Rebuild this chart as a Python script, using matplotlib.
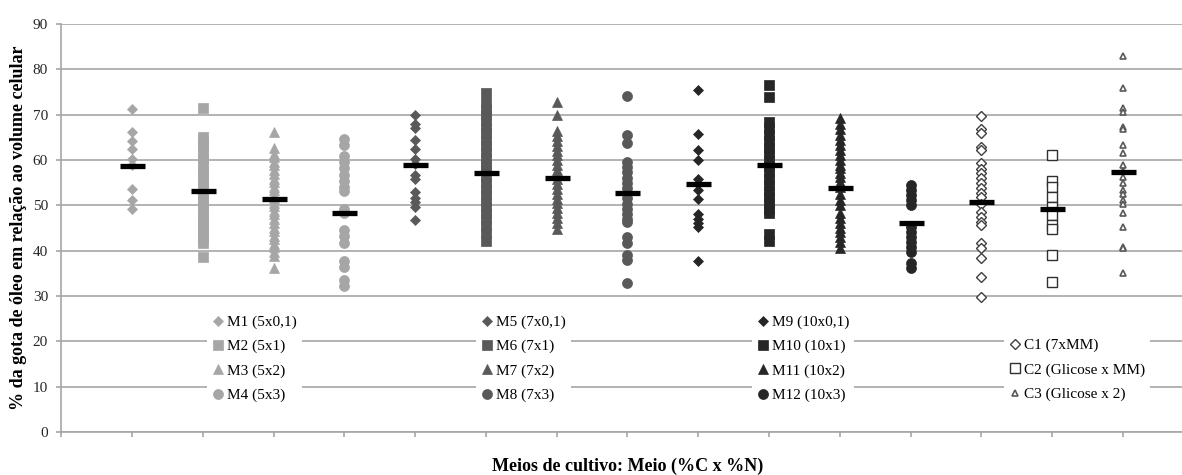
import numpy as np
import matplotlib
matplotlib.use("Agg")
from matplotlib import pyplot as plt

plt.rcParams['font.family'] = ['Liberation Serif', 'DejaVu Serif']

# Oil droplet share per culture medium (one value per cell)
m1 = [71.2, 66.1, 64.2, 62.5, 60.2, 59.0, 53.6, 51.2, 49.1]
m2 = [71.5, 65.1, 64.0, 62.8, 61.5, 60.2, 59.0, 57.6, 56.4, 55.1, 53.9, 52.6,
      51.3, 50.0, 48.8, 47.5, 46.3, 45.0, 43.8, 42.6, 41.7, 38.7]
m3 = [66.2, 62.6, 61.4, 60.6, 59.5, 58.8, 57.7, 57.0, 55.9, 55.2, 54.1, 53.4,
      52.3, 51.6, 50.5, 49.8, 48.7, 48.0, 46.9, 46.2, 45.1, 44.4, 43.3, 42.6,
      41.5, 40.8, 39.7, 38.9, 36.1]
m4 = [64.6, 63.3, 60.8, 59.5, 58.3, 56.8, 55.4, 54.1, 53.2, 49.2, 48.3, 44.6,
      43.2, 41.6, 37.8, 36.3, 33.5, 32.1]
m5 = [70.0, 68.0, 67.1, 64.4, 62.5, 60.2, 59.1, 56.7, 55.7, 53.0, 51.7, 50.8,
      49.7, 46.8]
m6 = [74.8, 72.5, 71.3, 70.0, 68.6, 67.1, 65.9, 64.4, 63.0, 61.8, 60.3, 59.0,
      57.7, 56.2, 55.0, 53.6, 52.3, 51.0, 49.6, 48.2, 46.9, 45.4, 44.0, 42.1]
m7 = [72.9, 69.9, 66.5, 65.4, 64.3, 63.1, 62.0, 61.0, 59.9, 58.9, 57.8, 56.9,
      55.8, 54.7, 53.7, 52.6, 51.5, 50.5, 49.4, 48.4, 47.3, 46.1, 44.8]
m8 = [74.1, 65.5, 63.7, 59.6, 58.4, 57.3, 56.1, 55.0, 53.8, 52.7, 51.6, 50.4,
      49.3, 48.1, 47.0, 46.4, 43.1, 41.6, 39.0, 37.9, 32.9]
m9 = [75.4, 65.7, 62.2, 60.1, 55.7, 54.6, 53.4, 51.4, 48.1, 47.0, 46.0, 45.3,
      37.8]
m10 = [76.6, 73.8, 68.4, 67.0, 65.6, 64.1, 62.7, 61.5, 60.0, 58.6, 57.3, 55.9,
       54.5, 53.2, 51.8, 50.5, 49.2, 48.2, 43.7, 42.1]
m11 = [69.2, 68.0, 66.8, 65.6, 64.4, 63.2, 62.2, 61.1, 60.0, 59.0, 58.2, 57.2,
       56.3, 55.2, 54.0, 52.6, 51.2, 50.1, 48.3, 47.1, 46.0, 45.1, 44.2, 43.1,
       42.0, 40.6]
m12 = [54.4, 53.3, 52.2, 51.1, 50.0, 45.3, 44.2, 43.1, 42.0, 40.9, 39.8, 37.2,
       36.2]
c1 = [69.6, 66.8, 65.9, 62.9, 62.1, 59.3, 58.1, 57.1, 56.0, 54.9, 53.8, 52.7,
      51.9, 50.4, 48.6, 47.5, 46.4, 45.7, 41.6, 40.5, 38.3, 34.3, 29.8]
c2 = [61.0, 55.3, 54.1, 51.8, 49.6, 47.9, 45.6, 44.8, 39.0, 33.0]
c3 = [82.9, 75.8, 71.4, 70.6, 67.2, 66.8, 63.3, 61.5, 58.9, 57.5, 56.3, 54.9,
      53.4, 52.5, 51.2, 50.3, 48.2, 45.2, 40.9, 40.5, 35.1]

labels = ['M1 (5x0,1)', 'M2 (5x1)', 'M3 (5x2)', 'M4 (5x3)',
          'M5 (7x0,1)', 'M6 (7x1)', 'M7 (7x2)', 'M8 (7x3)',
          'M9 (10x0,1)', 'M10 (10x1)', 'M11 (10x2)', 'M12 (10x3)',
          'C1 (7xMM)', 'C2 (Glicose x MM)', 'C3 (Glicose x 2)']
series = [m1, m2, m3, m4, m5, m6, m7, m8, m9, m10, m11, m12, c1, c2, c3]
means = [58.6, 53.2, 51.5, 48.2, 59.0, 57.1, 56.0, 52.8, 54.6, 58.8, 53.8,
         46.0, 50.7, 49.3, 57.3]

light, mid, dark = '#a6a6a6', '#595959', '#262626'
shapes = ['D', 's', '^', 'o']
sizes = {'D': 5.0, 's': 7.2, '^': 7.2, 'o': 7.2}
styles = []
for col in (light, mid, dark):
    for mk in shapes:
        styles.append(dict(marker=mk, ms=sizes[mk], mfc=col, mec=col, mew=0.5))
styles.append(dict(marker='D', ms=5.0, mfc='white', mec='#404040', mew=1.0))
styles.append(dict(marker='s', ms=7.4, mfc='white', mec='#303030', mew=1.0))
styles.append(dict(marker='^', ms=4.6, mfc='white', mec='#595959', mew=1.2))

W, H = 1182, 475
fig = plt.figure(figsize=(W / 100, H / 100), dpi=100)
x0, x16, y0, y90 = 61.2, 1193.8, 432, 24
ax = fig.add_axes([x0 / W, 1 - y0 / H, (x16 - x0) / W, (y0 - y90) / H])

handles = []
for i, (vals, st) in enumerate(zip(series, styles)):
    xs = np.full(len(vals), i + 1)
    h, = ax.plot(xs, vals, linestyle='none', label=labels[i], zorder=3, **st)
    handles.append(h)

ax.plot(np.arange(1, 16), means, linestyle='none', marker='_', ms=18,
        mew=3.8, color='black', zorder=5)

ax.set_xlim(0, 16)
ax.set_ylim(0, 90)
ax.set_yticks(np.arange(0, 91, 10))
ax.set_xticks(np.arange(0, 16))
ax.set_xticklabels([])
ax.grid(axis='y', color='#a6a6a6', linewidth=1.2, zorder=0)
ax.set_axisbelow(True)
for side in ('top', 'right'):
    ax.spines[side].set_visible(False)
for side in ('left', 'bottom'):
    ax.spines[side].set_color('#a6a6a6')
    ax.spines[side].set_linewidth(1.2)
ax.tick_params(axis='both', colors='#a6a6a6', length=3.5, width=1.2,
               labelsize=11, labelcolor='#262626', pad=6)

ax.set_ylabel('% da gota de óleo em relação ao volume celular',
              fontsize=13, fontweight='bold', va='center')
ax.yaxis.set_label_coords(-0.038, 0.5)
ax.set_xlabel('Meios de cultivo: Meio (%C x %N)', fontsize=13,
              fontweight='bold', va='center')
ax.xaxis.set_label_coords(0.5, -0.085)

# four legend blocks sitting inside the plot area
blocks = [(handles[0:4], 207.4, 358.7), (handles[4:8], 476.4, 358.7),
          (handles[8:12], 752.4, 358.7), (handles[12:15], 1004.4, 369.9)]
for k, (hs, lx, ly) in enumerate(blocks):
    leg = ax.legend(handles=hs, loc='center left',
                    bbox_to_anchor=(lx / W, 1 - ly / H),
                    bbox_transform=fig.transFigure, frameon=True,
                    facecolor='white', edgecolor='none', framealpha=1,
                    fancybox=False, fontsize=11, handlelength=0.8,
                    handletextpad=0.2, borderpad=0.3, borderaxespad=0,
                    labelspacing=0.69, numpoints=1)
    leg.set_zorder(6)
    if k < 3:
        ax.add_artist(leg)

fig.savefig('out.png', dpi=100)
